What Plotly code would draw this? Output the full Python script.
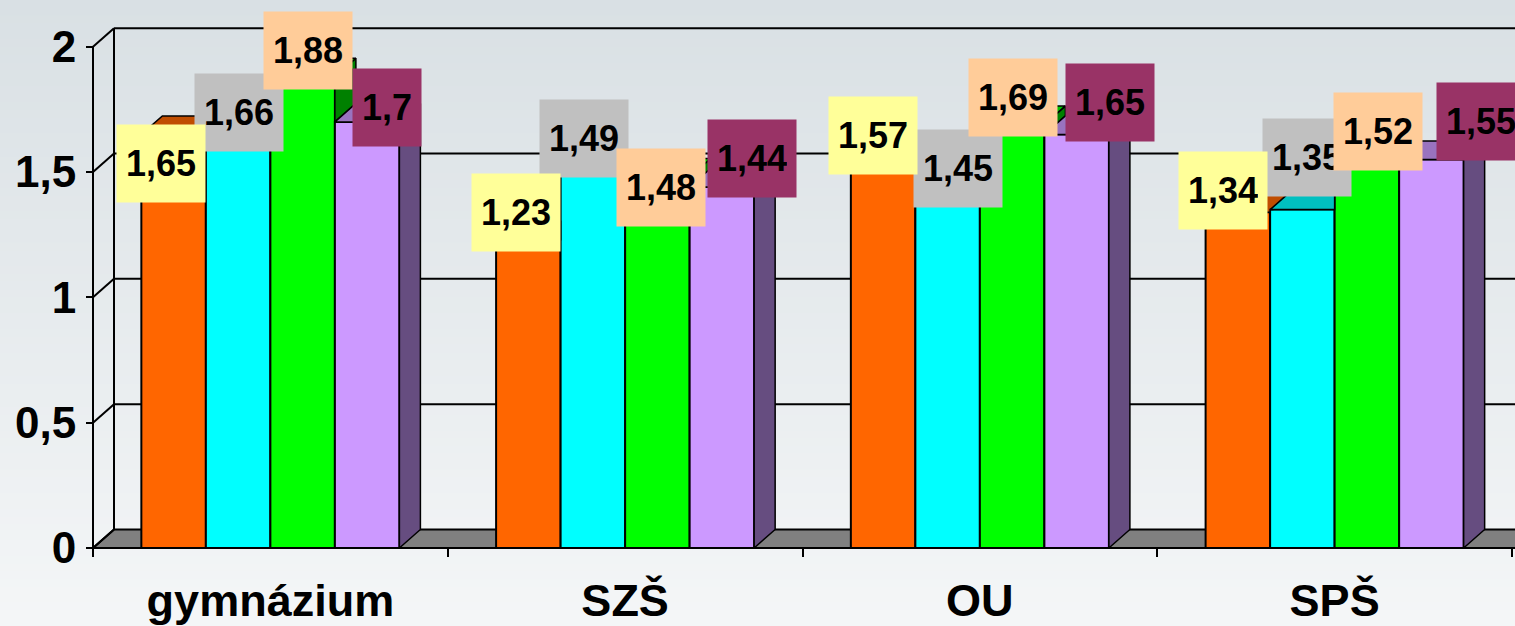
import plotly.graph_objects as go

# ---------------- data ----------------
CATEGORIES = ["gymnázium", "SZŠ", "OU", "SPŠ"]
SERIES_A = [1.65, 1.23, 1.57, 1.34]   # orange
SERIES_B = [1.66, 1.49, 1.45, 1.35]   # cyan
SERIES_C = [1.88, 1.48, 1.69, 1.52]   # green
SERIES_D = [1.70, 1.44, 1.65, 1.55]   # lavender
Y_TICKS = [0, 0.5, 1, 1.5, 2]

SERIES = [SERIES_A, SERIES_B, SERIES_C, SERIES_D]

# ---------------- style ----------------
FRONT = ["#FF6600", "#00FFFF", "#00FF00", "#CC99FF"]
TOP = ["#C04D00", "#00C0C0", "#00C000", "#9973BF"]
SIDE = ["#803300", "#008080", "#008000", "#664D80"]
LABEL_BG = ["#FFFF99", "#C0C0C0", "#FFCC99", "#993366"]
# label placement nudges (px right, px up) per series x category
LABEL_NUDGE = [
    [(-13, -29), (-12, 27), (-10, 19), (-15, 22)],
    [(1, 19), (-9, 36), (10, 16), (5, 52)],
    [(5, 26), (4, -10), (1, 27), (11, 36)],
    [(20, 14), (30, 29), (33, 32), (50, 38)],
]
FONT = "Liberation Sans, Arial, sans-serif"

W, H = 1515, 626
AXIS_X_PX = 93.0        # front value axis position
CAT_PX = 354.75         # pixels per category
ZERO_Y_PX = 548.0       # pixel row of value 0 (front)
UNIT_PX = 250.65        # pixels per value unit
DEPTH_X_PX, DEPTH_Y_PX = 21.0, 18.5

x_lo = -0.5 - AXIS_X_PX / CAT_PX
x_hi = -0.5 + (W - AXIS_X_PX) / CAT_PX
y_lo = -(H - ZERO_Y_PX) / UNIT_PX
y_hi = ZERO_Y_PX / UNIT_PX
DX = DEPTH_X_PX / CAT_PX
DY = DEPTH_Y_PX / UNIT_PX
GROUP = 0.7274
BW = GROUP / len(SERIES)
Y_MAX = max(Y_TICKS)


def fmt(v):
    s = f"{v:.2f}".rstrip("0").rstrip(".")
    return s.replace(".", ",")


fig = go.Figure()

# front faces of the bars
for k, vals in enumerate(SERIES):
    xs = [i - GROUP / 2 + (k + 0.5) * BW for i in range(len(CATEGORIES))]
    fig.add_trace(go.Bar(
        x=xs, y=vals, width=BW,
        marker=dict(color=FRONT[k], line=dict(color="black", width=2)),
        hoverinfo="skip", showlegend=False,
    ))

# 3D faces (tops and visible sides)
for i in range(len(CATEGORIES)):
    for k, vals in enumerate(SERIES):
        h = vals[i]
        xl = i - GROUP / 2 + k * BW
        xr = xl + BW
        last = k == len(SERIES) - 1
        hn = None if last else SERIES[k + 1][i]
        # side face
        if last:
            side = [(xr, 0), (xr, h), (xr + DX, h + DY), (xr + DX, DY)]
        elif h > hn:
            side = [(xr, hn), (xr, h), (xr + DX, h + DY), (xr + DX, hn + DY)]
        else:
            side = None
        if side:
            fig.add_trace(go.Scatter(
                x=[p[0] for p in side] + [side[0][0]],
                y=[p[1] for p in side] + [side[0][1]],
                mode="lines", fill="toself", fillcolor=SIDE[k],
                line=dict(color="black", width=1.5),
                hoverinfo="skip", showlegend=False))
        # top face
        if last or hn <= h:
            top = [(xl, h), (xr, h), (xr + DX, h + DY), (xl + DX, h + DY)]
        elif hn >= h + DY:
            top = [(xl, h), (xr, h), (xr, h + DY), (xl + DX, h + DY)]
        else:
            t = (hn - h) / DY
            top = [(xl, h), (xr, h), (xr, hn), (xr + t * DX, hn),
                   (xr + DX, h + DY), (xl + DX, h + DY)]
        fig.add_trace(go.Scatter(
            x=[p[0] for p in top] + [top[0][0]],
            y=[p[1] for p in top] + [top[0][1]],
            mode="lines", fill="toself", fillcolor=TOP[k],
            line=dict(color="black", width=1.5),
            hoverinfo="skip", showlegend=False))

# data labels
annotations = []
for k in [1, 0, 2, 3]:
    vals = SERIES[k]
    for i, v in enumerate(vals):
        xc = i - GROUP / 2 + (k + 0.5) * BW
        nx, ny = LABEL_NUDGE[k][i]
        annotations.append(dict(
            x=xc, y=v, xref="x", yref="y", text=f"<b>{fmt(v)}</b>",
            showarrow=False, xanchor="center", yanchor="middle",
            xshift=nx, yshift=ny, bgcolor=LABEL_BG[k], borderpad=9,
            height=59, font=dict(family=FONT, size=36, color="black")))

shapes = []
# background gradient
N = 80
c_top = (217, 224, 228)
c_bot = (244, 246, 247)
for b in range(N):
    f = b / (N - 1)
    col = tuple(round(c_top[j] + (c_bot[j] - c_top[j]) * f) for j in range(3))
    shapes.append(dict(type="rect", xref="paper", yref="paper",
                       x0=0, x1=1, y0=1 - (b + 1) / N - 0.002, y1=1 - b / N,
                       fillcolor=f"rgb{col}", line=dict(width=0), layer="below"))
# floor
xl0 = -0.5
shapes.append(dict(type="path", xref="x", yref="y", layer="below",
                   path=f"M {xl0},0 L {x_hi + 0.1},0 L {x_hi + 0.1},{DY} L {xl0 + DX},{DY} Z",
                   fillcolor="#808080", line=dict(color="black", width=2)))
# back wall gridlines and left wall
for v in Y_TICKS:
    if v > 0:
        shapes.append(dict(type="line", xref="x", yref="y", layer="below",
                           x0=xl0 + DX, y0=v + DY, x1=x_hi + 0.1, y1=v + DY,
                           line=dict(color="black", width=2)))
    shapes.append(dict(type="line", xref="x", yref="y", layer="below",
                       x0=xl0, y0=v, x1=xl0 + DX, y1=v + DY,
                       line=dict(color="black", width=2)))
shapes.append(dict(type="line", xref="x", yref="y", layer="below",
                   x0=xl0 + DX, y0=DY, x1=xl0 + DX, y1=Y_MAX + DY,
                   line=dict(color="black", width=2)))
# front value axis line and category axis line
shapes.append(dict(type="line", xref="x", yref="y",
                   x0=xl0, y0=0, x1=xl0, y1=Y_MAX,
                   line=dict(color="black", width=2)))
shapes.append(dict(type="line", xref="x", yref="y",
                   x0=xl0, y0=0, x1=x_hi + 0.1, y1=0,
                   line=dict(color="black", width=2)))

fig.update_layout(
    width=W, height=H,
    margin=dict(l=0, r=0, t=0, b=0),
    paper_bgcolor="#E8ECEE",
    plot_bgcolor="rgba(0,0,0,0)",
    separators=", ",
    barmode="overlay",
    showlegend=False,
    shapes=shapes,
    annotations=annotations,
    xaxis=dict(
        range=[x_lo, x_hi], anchor="free", position=(H - ZERO_Y_PX) / H,
        tickmode="array", tickvals=list(range(len(CATEGORIES))),
        ticktext=[f"<b>{c}</b>" for c in CATEGORIES],
        ticks="", showline=False, showgrid=False, zeroline=False,
        tickfont=dict(family=FONT, size=45, color="black"),
        ticklabelstandoff=22,
        minor=dict(tickmode="array",
                   tickvals=[i - 0.5 for i in range(len(CATEGORIES) + 1)],
                   ticks="outside", ticklen=8, tickwidth=2, tickcolor="black",
                   showgrid=False),
    ),
    yaxis=dict(
        range=[y_lo, y_hi], anchor="free", position=AXIS_X_PX / W,
        tickmode="array", tickvals=Y_TICKS,
        ticktext=[f"<b>{fmt(v)}</b>" for v in Y_TICKS],
        ticks="outside", ticklen=7, tickwidth=2, tickcolor="black",
        showline=False, showgrid=False, zeroline=False,
        tickfont=dict(family=FONT, size=44, color="black"),
        ticklabelstandoff=1,
    ),
)

fig.write_html(
    "out.html",
    config={"displayModeBar": False},
    post_script="document.body.style.margin='0';document.body.style.overflow='hidden';",
)
